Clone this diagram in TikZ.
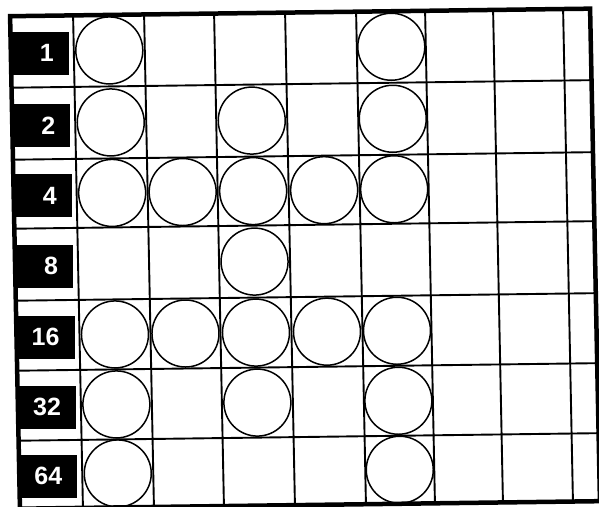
\documentclass[tikz,border=0pt]{standalone}
\usepackage{fontspec}
\setmainfont{Liberation Sans}
\usepackage{tikz}

\begin{document}
\begin{tikzpicture}[
        x=1pt, y=-1pt,
        bitbox/.style={fill=black, text=white, font=\bfseries\fontsize{25}{25}\selectfont, text width=28pt, align=right, inner xsep=15pt, inner ysep=0pt, minimum height=43pt},
        bead/.style={circle, draw, line width=1.5pt, minimum size=67pt, inner sep=0pt},
        gridline/.style={line width=1.9pt},
        outerframe/.style={line width=4.5pt}
    ]
        \useasboundingbox (0,0) rectangle (599,506);

    % a folha digitalizada esta levemente inclinada
    \begin{scope}[shift={(300,258)}, cm={1,0.013,-0.02,1,(0,0)}, shift={(-300,-258)}]
        % Grade
        \draw[gridline] (15,84) -- (595,84);
        \draw[gridline] (15,156) -- (595,156);
        \draw[gridline] (15,225) -- (595,225);
        \draw[gridline] (15,297) -- (595,297);
        \draw[gridline] (15,367) -- (595,367);
        \draw[gridline] (15,437) -- (595,437);
        \draw[gridline] (78,12.5) -- (78,505);
        \draw[gridline] (149,12.5) -- (149,505);
        \draw[gridline] (219,12.5) -- (219,505);
        \draw[gridline] (290,12.5) -- (290,505);
        \draw[gridline] (361,12.5) -- (361,505);
        \draw[gridline] (430,12.5) -- (430,505);
        \draw[gridline] (498,12.5) -- (498,505);
        \draw[gridline] (568,12.5) -- (568,505);
        \draw[outerframe] (15,12.5) rectangle (595,505);

        % Rotulos
        \node (bit1) at (44,50) [bitbox] {1};
        \node (bit2) at (44,122) [bitbox] {2};
        \node (bit4) at (44,192.5) [bitbox] {4};
        \node (bit8) at (44,263) [bitbox] {8};
        \node (bit16) at (44,334) [bitbox] {16};
        \node (bit32) at (44,404) [bitbox] {32};
        \node (bit64) at (44,473) [bitbox] {64};

        % Circulos
        \node (r1c1) at (113.5,48) [bead] {};
        \node (r1c5) at (395.5,48) [bead] {};
        \node (r2c1) at (113.5,120) [bead] {};
        \node (r2c3) at (254.5,120) [bead] {};
        \node (r2c5) at (395.5,120) [bead] {};
        \node (r4c1) at (113.5,190.5) [bead] {};
        \node (r4c2) at (184,190.5) [bead] {};
        \node (r4c3) at (254.5,190.5) [bead] {};
        \node (r4c4) at (325.5,190.5) [bead] {};
        \node (r4c5) at (395.5,190.5) [bead] {};
        \node (r8c3) at (254.5,261) [bead] {};
        \node (r16c1) at (113.5,332) [bead] {};
        \node (r16c2) at (184,332) [bead] {};
        \node (r16c3) at (254.5,332) [bead] {};
        \node (r16c4) at (325.5,332) [bead] {};
        \node (r16c5) at (395.5,332) [bead] {};
        \node (r32c1) at (113.5,402) [bead] {};
        \node (r32c3) at (254.5,402) [bead] {};
        \node (r32c5) at (395.5,402) [bead] {};
        \node (r64c1) at (113.5,471) [bead] {};
        \node (r64c5) at (395.5,471) [bead] {};
    \end{scope}
    \end{tikzpicture}
\end{document}
